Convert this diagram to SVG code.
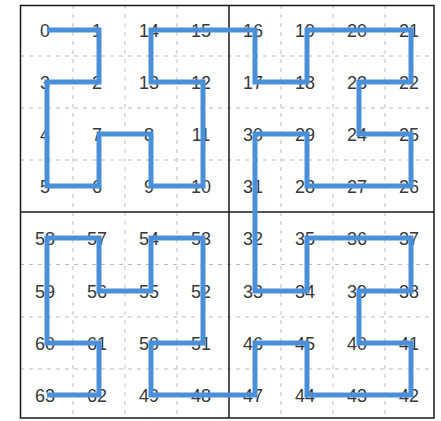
<svg xmlns="http://www.w3.org/2000/svg" width="441" height="421" viewBox="0 0 441 421">
<style>
.grid{stroke:#bdbdbd;stroke-width:1;stroke-dasharray:4 5;fill:none}
.frame{stroke:#1a1a1a;stroke-width:1.5;fill:none}
.lbl{font-family:"Liberation Sans",Arial,sans-serif;font-size:18px;fill:#383838;text-anchor:middle}
.curve{stroke:#4a90d9;stroke-width:5;fill:none;stroke-linejoin:miter;stroke-linecap:butt}
</style>
<rect x="0" y="0" width="441" height="421" fill="#fff"/>
<g id="grid">
<path class="grid" d="M73 5V418M125 5V418M177 5V418M281 5V418M333 5V418M385 5V418M20 56H434M20 108H434M20 160H434M20 264.5H434M20 317H434M20 369H434"/>
</g>
<g id="frame">
<rect class="frame" x="20.5" y="5.5" width="413.5" height="412.5"/>
<path class="frame" d="M229 5.5V418M20.5 212H434"/>
</g>
<g id="nodes" transform="translate(-2,7)">
<g id="n0"><text class="lbl" x="47" y="30">0</text></g>
<g id="n1"><text class="lbl" x="99" y="30">1</text></g>
<g id="n2"><text class="lbl" x="99" y="82">2</text></g>
<g id="n3"><text class="lbl" x="47" y="82">3</text></g>
<g id="n4"><text class="lbl" x="47" y="134">4</text></g>
<g id="n5"><text class="lbl" x="47" y="186">5</text></g>
<g id="n6"><text class="lbl" x="99" y="186">6</text></g>
<g id="n7"><text class="lbl" x="99" y="134">7</text></g>
<g id="n8"><text class="lbl" x="151" y="134">8</text></g>
<g id="n9"><text class="lbl" x="151" y="186">9</text></g>
<g id="n10"><text class="lbl" x="203" y="186">10</text></g>
<g id="n11"><text class="lbl" x="203" y="134">11</text></g>
<g id="n12"><text class="lbl" x="203" y="82">12</text></g>
<g id="n13"><text class="lbl" x="151" y="82">13</text></g>
<g id="n14"><text class="lbl" x="151" y="30">14</text></g>
<g id="n15"><text class="lbl" x="203" y="30">15</text></g>
<g id="n16"><text class="lbl" x="255" y="30">16</text></g>
<g id="n17"><text class="lbl" x="255" y="82">17</text></g>
<g id="n18"><text class="lbl" x="307" y="82">18</text></g>
<g id="n19"><text class="lbl" x="307" y="30">19</text></g>
<g id="n20"><text class="lbl" x="359" y="30">20</text></g>
<g id="n21"><text class="lbl" x="411" y="30">21</text></g>
<g id="n22"><text class="lbl" x="411" y="82">22</text></g>
<g id="n23"><text class="lbl" x="359" y="82">23</text></g>
<g id="n24"><text class="lbl" x="359" y="134">24</text></g>
<g id="n25"><text class="lbl" x="411" y="134">25</text></g>
<g id="n26"><text class="lbl" x="411" y="186">26</text></g>
<g id="n27"><text class="lbl" x="359" y="186">27</text></g>
<g id="n28"><text class="lbl" x="307" y="186">28</text></g>
<g id="n29"><text class="lbl" x="307" y="134">29</text></g>
<g id="n30"><text class="lbl" x="255" y="134">30</text></g>
<g id="n31"><text class="lbl" x="255" y="186">31</text></g>
<g id="n32"><text class="lbl" x="255" y="238">32</text></g>
<g id="n33"><text class="lbl" x="255" y="291">33</text></g>
<g id="n34"><text class="lbl" x="307" y="291">34</text></g>
<g id="n35"><text class="lbl" x="307" y="238">35</text></g>
<g id="n36"><text class="lbl" x="359" y="238">36</text></g>
<g id="n37"><text class="lbl" x="411" y="238">37</text></g>
<g id="n38"><text class="lbl" x="411" y="291">38</text></g>
<g id="n39"><text class="lbl" x="359" y="291">39</text></g>
<g id="n40"><text class="lbl" x="359" y="343">40</text></g>
<g id="n41"><text class="lbl" x="411" y="343">41</text></g>
<g id="n42"><text class="lbl" x="411" y="395">42</text></g>
<g id="n43"><text class="lbl" x="359" y="395">43</text></g>
<g id="n44"><text class="lbl" x="307" y="395">44</text></g>
<g id="n45"><text class="lbl" x="307" y="343">45</text></g>
<g id="n46"><text class="lbl" x="255" y="343">46</text></g>
<g id="n47"><text class="lbl" x="255" y="395">47</text></g>
<g id="n48"><text class="lbl" x="203" y="395">48</text></g>
<g id="n49"><text class="lbl" x="151" y="395">49</text></g>
<g id="n50"><text class="lbl" x="151" y="343">50</text></g>
<g id="n51"><text class="lbl" x="203" y="343">51</text></g>
<g id="n52"><text class="lbl" x="203" y="291">52</text></g>
<g id="n53"><text class="lbl" x="203" y="238">53</text></g>
<g id="n54"><text class="lbl" x="151" y="238">54</text></g>
<g id="n55"><text class="lbl" x="151" y="291">55</text></g>
<g id="n56"><text class="lbl" x="99" y="291">56</text></g>
<g id="n57"><text class="lbl" x="99" y="238">57</text></g>
<g id="n58"><text class="lbl" x="47" y="238">58</text></g>
<g id="n59"><text class="lbl" x="47" y="291">59</text></g>
<g id="n60"><text class="lbl" x="47" y="343">60</text></g>
<g id="n61"><text class="lbl" x="99" y="343">61</text></g>
<g id="n62"><text class="lbl" x="99" y="395">62</text></g>
<g id="n63"><text class="lbl" x="47" y="395">63</text></g>
</g>
<g id="connectors">
<polyline class="curve" points="47,30 99,30 99,82 47,82 47,134 47,186 99,186 99,134 151,134 151,186 203,186 203,134 203,82 151,82 151,30 203,30 255,30 255,82 307,82 307,30 359,30 411,30 411,82 359,82 359,134 411,134 411,186 359,186 307,186 307,134 255,134 255,186 255,238 255,291 307,291 307,238 359,238 411,238 411,291 359,291 359,343 411,343 411,395 359,395 307,395 307,343 255,343 255,395 203,395 151,395 151,343 203,343 203,291 203,238 151,238 151,291 99,291 99,238 47,238 47,291 47,343 99,343 99,395 47,395"/>
</g>
</svg>
